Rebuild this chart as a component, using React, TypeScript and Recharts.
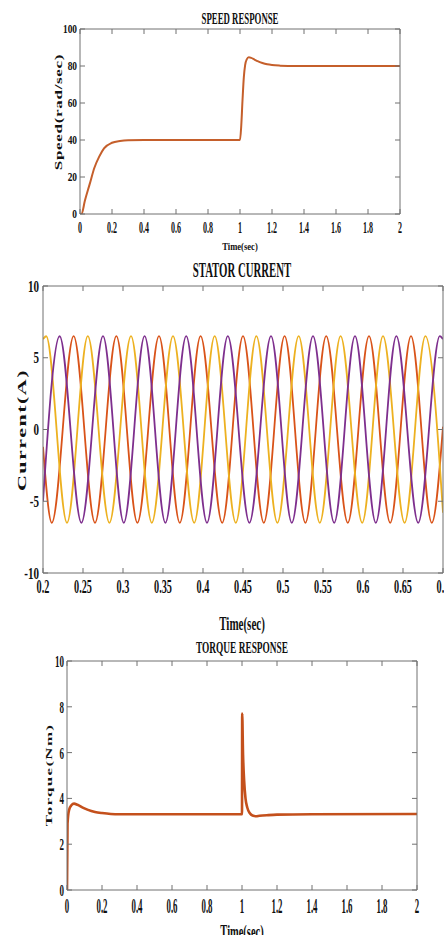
import { Line, LineChart, XAxis, YAxis } from "recharts";

// speed response (rad/sec)
const speedTime = [0, 0.01, 0.03, 0.06, 0.09, 0.12, 0.15, 0.2, 0.25, 0.3, 0.4, 1.0, 1.008, 1.016, 1.024, 1.032, 1.042, 1.055, 1.07, 1.09, 1.11, 1.14, 1.17, 1.2, 1.25, 1.35, 2.0];
const speedValue = [0, 0, 7, 16, 25, 31, 35.5, 38.5, 39.5, 39.9, 40, 40, 48, 62, 74, 80.5, 83.6, 84.7, 84.4, 83.5, 82.6, 81.6, 80.9, 80.5, 80.2, 80, 80];

// stator current: crest / trough times of each phase
const currentAmp = 6.5;
const redCrests = [0.2383, 0.2917, 0.345, 0.397, 0.45, 0.502, 0.554, 0.6075, 0.66];
const redTroughs = [0.211, 0.265, 0.318, 0.371, 0.424, 0.476, 0.528, 0.581, 0.634, 0.686];
const yellowCrests = [0.204, 0.256, 0.31, 0.3625, 0.4146, 0.4667, 0.5196, 0.572, 0.625, 0.678];
const yellowTroughs = [0.23, 0.283, 0.336, 0.389, 0.441, 0.493, 0.546, 0.599, 0.652];
const purpleCrests = [0.2208, 0.275, 0.327, 0.379, 0.431, 0.485, 0.5375, 0.59, 0.6417, 0.696];
const purpleTroughs = [0.248, 0.301, 0.353, 0.405, 0.458, 0.511, 0.564, 0.616, 0.669];
const currentEdges = { red: [-1.2, 0.2], yellow: [6.3, -5.8], purple: [-5.0, 6.3] };

// torque response (Nm)
const torqueTime = [0, 0.003, 0.012, 0.025, 0.04, 0.06, 0.09, 0.12, 0.16, 0.2, 0.25, 0.3, 1.0, 1.001, 1.006, 1.012, 1.02, 1.03, 1.045, 1.06, 1.08, 1.1, 1.15, 1.2, 1.4, 2.0];
const torqueValue = [0, 2.9, 3.5, 3.7, 3.77, 3.72, 3.6, 3.5, 3.41, 3.36, 3.32, 3.31, 3.31, 7.7, 5.9, 4.8, 4.0, 3.6, 3.35, 3.25, 3.22, 3.24, 3.27, 3.29, 3.31, 3.32];

const ticks0to2 = [0, 0.2, 0.4, 0.6, 0.8, 1, 1.2, 1.4, 1.6, 1.8, 2];
const currentTicksX = [0.2, 0.25, 0.3, 0.35, 0.4, 0.45, 0.5, 0.55, 0.6, 0.65, 0.7];
const speedTicksY = [0, 20, 40, 60, 80, 100];
const currentTicksY = [-10, -5, 0, 5, 10];
const torqueTicksY = [0, 2, 4, 6, 8, 10];

const speedData = speedTime.map((t, i) => ({ t, v: speedValue[i] }));
const torqueData = torqueTime.map((t, i) => ({ t, v: torqueValue[i] }));

function phase(crests: number[], troughs: number[], edges: number[]) {
  const pts = [
    { t: 0.2, v: edges[0] },
    ...crests.map((t) => ({ t, v: currentAmp })),
    ...troughs.map((t) => ({ t, v: -currentAmp })),
    { t: 0.7, v: edges[1] },
  ];
  return pts.sort((a, b) => a.t - b.t);
}

const redData = phase(redCrests, redTroughs, currentEdges.red);
const yellowData = phase(yellowCrests, yellowTroughs, currentEdges.yellow);
const purpleData = phase(purpleCrests, purpleTroughs, currentEdges.purple);

const FONT = '"Liberation Serif", "Times New Roman", serif';
const AXIS = "#707070";
const INK = "#111";

function xTick(size: number, sx: number) {
  return (p: any) => (
    <text transform={`translate(${p.x},${p.y}) scale(${sx},1)`} textAnchor="middle" dy="0.71em" fontFamily={FONT} fontWeight="bold" fontSize={size} fill={INK} stroke="none">
      {p.payload.value}
    </text>
  );
}

function yTick(size: number, sx: number) {
  return (p: any) => (
    <text transform={`translate(${p.x},${p.y}) scale(${sx},1)`} textAnchor="end" dy="0.35em" fontFamily={FONT} fontWeight="bold" fontSize={size} fill={INK} stroke="none">
      {p.payload.value}
    </text>
  );
}

const blank = () => <g />;

function Caption({ x, y, size, sx, text }: { x: number; y: number; size: number; sx: number; text: string }) {
  return (
    <text transform={`translate(${x},${y}) scale(${sx},1)`} textAnchor="middle" fontFamily={FONT} fontWeight="bold" fontSize={size} fill={INK}>
      {text}
    </text>
  );
}

function VCaption({ x, y, size, sx, spacing, text }: { x: number; y: number; size: number; sx: number; spacing: number; text: string }) {
  return (
    <text transform={`translate(${x},${y}) scale(${sx},1) rotate(-90)`} textAnchor="middle" dominantBaseline="central" fontFamily={FONT} fontWeight="bold" fontSize={size} letterSpacing={spacing} fill={INK}>
      {text}
    </text>
  );
}

export default function App() {
  return (
    <div style={{ position: "absolute", left: 0, top: 0, width: 444, height: 935, overflow: "hidden", background: "#fff" }}>
      <div style={{ position: "absolute", left: 0, top: 0 }}>
        <LineChart width={444} height={260} margin={{ top: 28, right: 43, bottom: 45, left: 79 }}>
          <XAxis xAxisId="b" type="number" dataKey="t" domain={[0, 2]} ticks={ticks0to2} interval={0} height={1} stroke={AXIS} tickSize={-5} tickMargin={13} tick={xTick(16, 0.5)} allowDataOverflow />
          <XAxis xAxisId="t" orientation="top" type="number" dataKey="t" domain={[0, 2]} ticks={ticks0to2} interval={0} height={1} stroke={AXIS} tickSize={-5} tick={blank} allowDataOverflow />
          <YAxis yAxisId="l" type="number" domain={[0, 100]} ticks={speedTicksY} interval={0} width={1} stroke={AXIS} tickSize={-5} tickMargin={8} tick={yTick(12, 0.78)} allowDataOverflow />
          <YAxis yAxisId="r" orientation="right" type="number" domain={[0, 100]} ticks={speedTicksY} interval={0} width={1} stroke={AXIS} tickSize={-5} tick={blank} allowDataOverflow />
          <Line xAxisId="b" yAxisId="l" data={speedData} dataKey="v" type="monotone" stroke="#c55f2b" strokeWidth={2} dot={false} isAnimationActive={false} />
        </LineChart>
      </div>

      <div style={{ position: "absolute", left: 0, top: 250 }}>
        <LineChart width={470} height={360} margin={{ top: 35, right: 26, bottom: 36, left: 42 }}>
          <XAxis xAxisId="b" type="number" dataKey="t" domain={[0.2, 0.7]} ticks={currentTicksX} interval={0} height={1} stroke={AXIS} tickSize={-5} tickMargin={12} tick={xTick(19, 0.54)} allowDataOverflow />
          <XAxis xAxisId="t" orientation="top" type="number" dataKey="t" domain={[0.2, 0.7]} ticks={currentTicksX} interval={0} height={1} stroke={AXIS} tickSize={-5} tick={blank} allowDataOverflow />
          <YAxis yAxisId="l" type="number" domain={[-10, 10]} ticks={currentTicksY} interval={0} width={1} stroke={AXIS} tickSize={-5} tickMargin={9} tick={yTick(16, 0.69)} allowDataOverflow />
          <YAxis yAxisId="r" orientation="right" type="number" domain={[-10, 10]} ticks={currentTicksY} interval={0} width={1} stroke={AXIS} tickSize={-5} tick={blank} allowDataOverflow />
          <Line xAxisId="b" yAxisId="l" data={redData} dataKey="v" type="monotone" stroke="#d95319" strokeWidth={1.8} dot={false} isAnimationActive={false} />
          <Line xAxisId="b" yAxisId="l" data={yellowData} dataKey="v" type="monotone" stroke="#edb120" strokeWidth={1.8} dot={false} isAnimationActive={false} />
          <Line xAxisId="b" yAxisId="l" data={purpleData} dataKey="v" type="monotone" stroke="#7e2f8e" strokeWidth={1.8} dot={false} isAnimationActive={false} />
        </LineChart>
      </div>

      <div style={{ position: "absolute", left: 0, top: 630 }}>
        <LineChart width={444} height={305} margin={{ top: 30, right: 26, bottom: 44, left: 66 }}>
          <XAxis xAxisId="b" type="number" dataKey="t" domain={[0, 2]} ticks={ticks0to2} interval={0} height={1} stroke={AXIS} tickSize={-5} tickMargin={13} tick={xTick(21, 0.42)} allowDataOverflow />
          <XAxis xAxisId="t" orientation="top" type="number" dataKey="t" domain={[0, 2]} ticks={ticks0to2} interval={0} height={1} stroke={AXIS} tickSize={-5} tick={blank} allowDataOverflow />
          <YAxis yAxisId="l" type="number" domain={[0, 10]} ticks={torqueTicksY} interval={0} width={1} stroke={AXIS} tickSize={-5} tickMargin={8} tick={yTick(17, 0.53)} allowDataOverflow />
          <YAxis yAxisId="r" orientation="right" type="number" domain={[0, 10]} ticks={torqueTicksY} interval={0} width={1} stroke={AXIS} tickSize={-5} tick={blank} allowDataOverflow />
          <Line xAxisId="b" yAxisId="l" data={torqueData} dataKey="v" type="monotone" stroke="#c4501c" strokeWidth={2.6} dot={false} isAnimationActive={false} />
        </LineChart>
      </div>

      <svg width={444} height={935} style={{ position: "absolute", left: 0, top: 0, pointerEvents: "none" }}>
        <Caption x={240} y={24} size={16} sx={0.55} text="SPEED RESPONSE" />
        <Caption x={240} y={250} size={11} sx={0.78} text="Time(sec)" />
        <VCaption x={59} y={112} size={17} sx={0.55} spacing={0.7} text="Speed(rad/sec)" />
        <Caption x={242} y={277} size={22} sx={0.49} text="STATOR CURRENT" />
        <Caption x={242} y={630} size={19} sx={0.58} text="Time(sec)" />
        <VCaption x={22} y={430} size={22} sx={0.55} spacing={1.5} text="Current(A)" />
        <Caption x={242} y={653} size={17} sx={0.55} text="TORQUE RESPONSE" />
        <Caption x={242} y={938} size={18} sx={0.58} text="Time(sec)" />
        <VCaption x={49} y={775} size={17} sx={0.5} spacing={1.3} text="Torque(Nm)" />
      </svg>
    </div>
  );
}
